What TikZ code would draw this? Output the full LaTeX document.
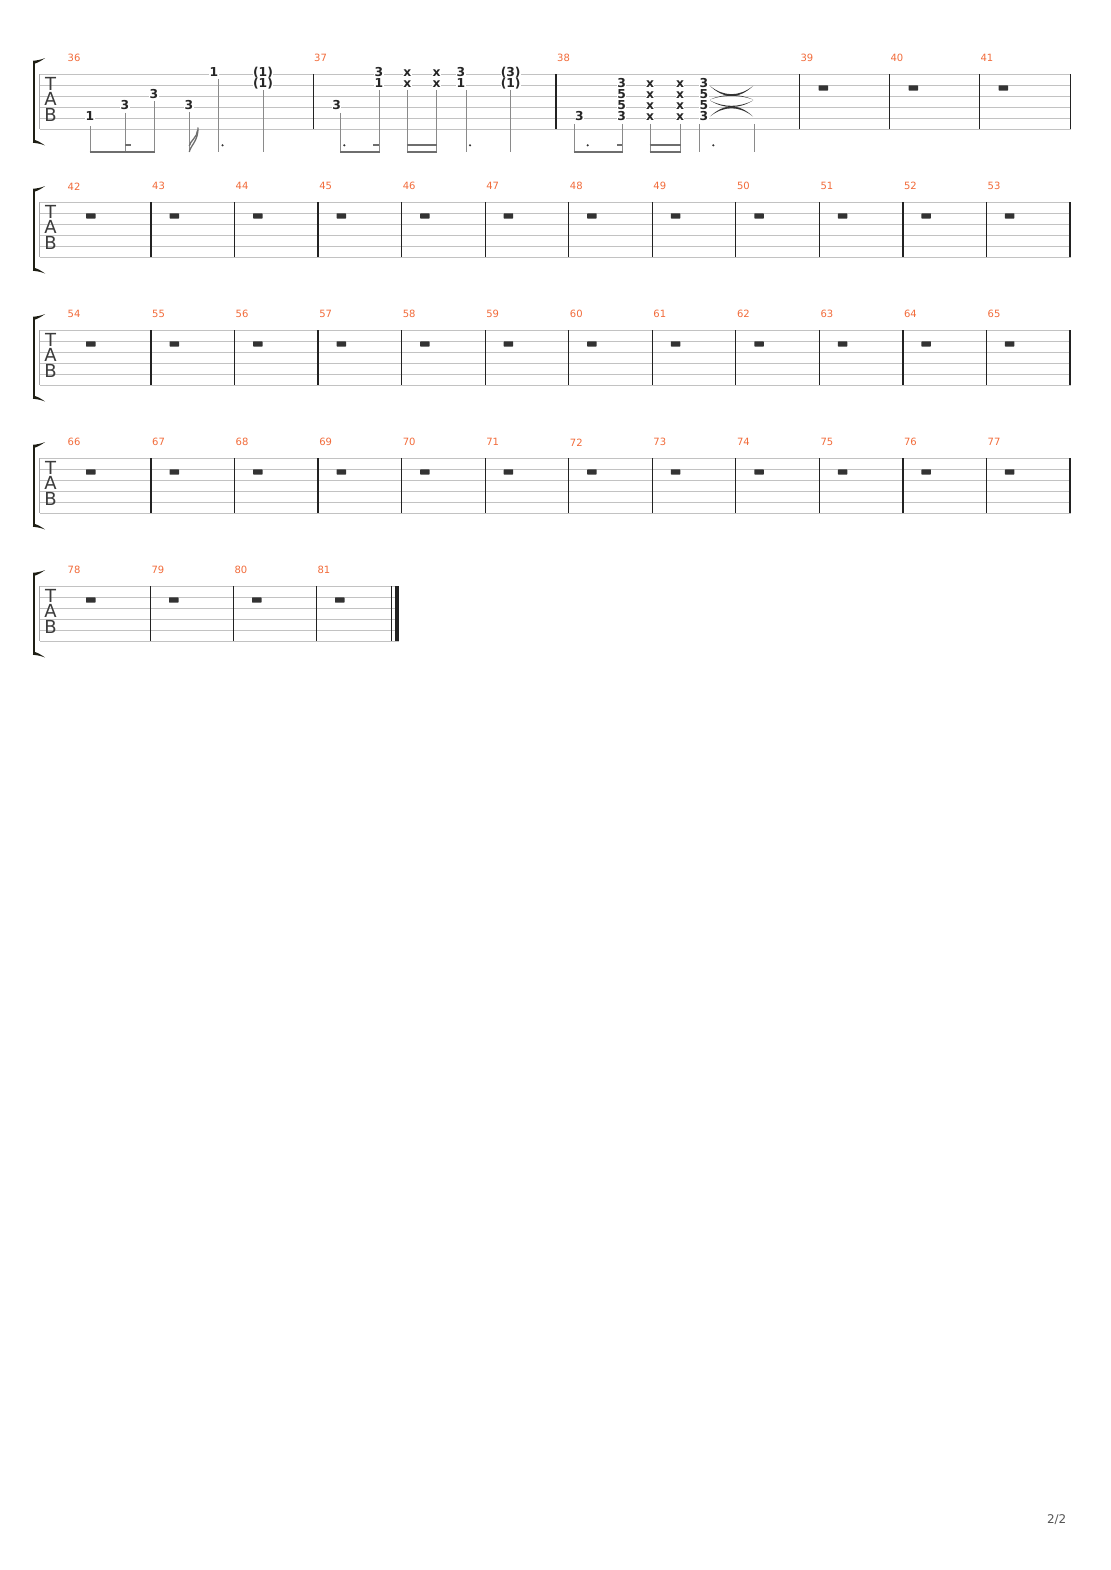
\documentclass[tikz,border=0pt]{standalone}
\usepackage{fontspec}
\setmainfont{DejaVu Sans}
\definecolor{staffc}{HTML}{C2C2C2}
\definecolor{startc}{HTML}{A8A8A8}
\definecolor{barc}{HTML}{222222}
\definecolor{numc}{HTML}{F26B3A}
\definecolor{stemc}{HTML}{8A8A8A}
\definecolor{beamc}{HTML}{6E6E6E}
\definecolor{restc}{HTML}{333333}
\definecolor{textc}{HTML}{262626}
\definecolor{tabc}{HTML}{3C3C3C}
\definecolor{brc}{HTML}{1E1E14}
\definecolor{pagec}{HTML}{555555}
\tikzset{
  staffline/.style={draw=staffc,line width=1pt},
  startline/.style={draw=startc,line width=1.4pt},
  barline/.style={draw=barc,line width=1.3pt},
  mnum/.style={font=\fontsize{10}{10}\selectfont,text=numc,anchor=west,inner sep=0pt},
  tabl/.style={font=\fontsize{18}{18}\selectfont,text=tabc,inner sep=0pt,text height=13.1pt,text depth=0pt},
  fret/.style={font=\bfseries\fontsize{12.3}{12.3}\selectfont,text=textc,fill=white,inner sep=0.3pt,text height=9pt,text depth=0pt},
  xfret/.style={fret,text height=6.7pt,yshift=-0.5pt},
  stemln/.style={draw=stemc,line width=1pt},
  beamln/.style={draw=beamc,line width=2.8pt},
  stubln/.style={draw=beamc,line width=2.2pt},
  flagln/.style={draw=beamc,line width=1.3pt},
  tiefill/.style={fill=restc},
  pagenum/.style={font=\fontsize{12}{12}\selectfont,text=pagec,inner sep=0pt}
}
% #1 index, #2 top y, #3 right x
\newcommand\sysframe[3]{%
  \foreach \i in {0,...,5}{\draw[staffline] (40,{#2+11*\i}) -- (#3,{#2+11*\i});}
  \draw[startline] (39.7,#2) -- (39.7,{#2+55});
  \fill[brc] (32.9,{#2-13.5}) rectangle (35.1,{#2+68.5});
  \fill[brc] (32.9,{#2-13.5}) .. controls (37,{#2-13.8}) and (41,{#2-14.6}) .. (45,{#2-16.2})
     .. controls (41,{#2-13.4}) and (38,{#2-11.6}) .. (35.1,{#2-10.8}) -- cycle;
  \fill[brc] (32.9,{#2+68.5}) .. controls (37,{#2+68.8}) and (41,{#2+69.6}) .. (45,{#2+71.2})
     .. controls (41,{#2+68.4}) and (38,{#2+66.6}) .. (35.1,{#2+65.8}) -- cycle;
  \node[tabl] (tabT#1) at (50.5,{#2+10}) {T};
  \node[tabl] (tabA#1) at (50.5,{#2+25}) {A};
  \node[tabl] (tabB#1) at (50.5,{#2+41}) {B};
}
\newcommand\wrest[2]{\fill[restc,rounded corners=0.6pt] ({#1},{#2+11}) rectangle ({#1+9.5},{#2+16.3});}
\newcommand\ndot[1]{\fill[restc] (#1,145.3) circle (1.2pt);}
% tie: x1 x2 yend ymid
\newcommand\tiearc[4]{%
  \pgfmathsetmacro\ca{(4*#4-#3)/3}%
  \pgfmathsetmacro\cb{(4*(#4+(#3-#4)*0.18)-#3)/3}%
  \fill[tiefill] (#1,#3) .. controls ({#1+14},\ca) and ({#2-14},\ca) .. (#2,#3)
     .. controls ({#2-14},\cb) and ({#1+14},\cb) .. (#1,#3) -- cycle;}
\begin{document}
\begin{tikzpicture}[x=1pt,y=-1pt]
\useasboundingbox (0,0) rectangle (1110,1570);
\fill[white] (0,0) rectangle (1110,1570);

% ---------- system frames
\sysframe{1}{74.3}{1071}
\sysframe{2}{202.3}{1071}
\sysframe{3}{330.3}{1071}
\sysframe{4}{458.3}{1071}
\sysframe{5}{586.3}{399}

% ---------- system 1
\foreach \bx in {313.3,556,799.3,889.3,979.3,1070.3}{\draw[barline] (\bx,74.3) -- (\bx,129.3);}
\node[mnum] (m36) at (67.5,58.3) {36};
\node[mnum] (m37) at (314,58.3) {37};
\node[mnum] (m38) at (557,58.3) {38};
\node[mnum] (m39) at (800.3,58.3) {39};
\node[mnum] (m40) at (890.3,58.3) {40};
\node[mnum] (m41) at (980.3,58.3) {41};
\wrest{818.5}{74.3}
\wrest{908.5}{74.3}
\wrest{998.5}{74.3}

% measure 36
\node[fret] (a1) at (90,116.3) {1};
\node[fret] (a2) at (125,105.3) {3};
\node[fret] (a3) at (154,94.3) {3};
\node[fret] (a4) at (189,105.3) {3};
\node[fret] (a5) at (214,72.3) {1};
\node[fret] (a6a) at (263,72) {(1)};
\node[fret] (a6b) at (263,83.5) {(1)};
\draw[stemln] (90,126.5) -- (90,153.5);
\draw[stemln] (125,113) -- (125,153.5);
\draw[stemln] (154,101.5) -- (154,153.5);
\draw[beamln] (89.5,152) -- (154.5,152);
\draw[stubln] (125,144.7) -- (130.5,144.7);
\draw[stemln] (189,112) -- (189,152.3);
\draw[flagln] (189.3,152) .. controls (190,146) and (198.5,141) .. (198,127.5);
\draw[flagln] (189.3,146) .. controls (190,141) and (197.5,137) .. (197.5,130.5);
\draw[stemln] (218,79) -- (218,152.3);
\ndot{222.5}
\draw[stemln] (263,90) -- (263,152.3);

% measure 37
\node[fret] (b1) at (336.7,105.3) {3};
\node[fret] (b2a) at (379,72.3) {3};
\node[fret] (b2b) at (379,83.3) {1};
\node[xfret] (b3a) at (407.3,72.3) {x};
\node[xfret] (b3b) at (407.3,83.3) {x};
\node[xfret] (b4a) at (436.7,72.3) {x};
\node[xfret] (b4b) at (436.7,83.3) {x};
\node[fret] (b5a) at (461,72.3) {3};
\node[fret] (b5b) at (461,83.3) {1};
\node[fret] (b6a) at (510.7,72) {(3)};
\node[fret] (b6b) at (510.7,83.5) {(1)};
\draw[stemln] (340.7,113) -- (340.7,153.5);
\ndot{344.3}
\draw[stemln] (379,90) -- (379,153.5);
\draw[beamln] (340.2,152) -- (379.5,152);
\draw[stubln] (373,144.7) -- (379,144.7);
\draw[stemln] (407.3,90) -- (407.3,153.5);
\draw[stemln] (436.7,90) -- (436.7,153.5);
\draw[beamln] (406.8,152) -- (437.2,152);
\draw[stubln] (406.8,144.7) -- (437.2,144.7);
\draw[stemln] (466,90) -- (466,152.3);
\ndot{470}
\draw[stemln] (510.7,90) -- (510.7,152.3);

% measure 38
\node[fret] (c1) at (579.3,116.3) {3};
\node[fret] (c2a) at (621.7,83.3) {3};
\node[fret] (c2b) at (621.7,94.3) {5};
\node[fret] (c2c) at (621.7,105.3) {5};
\node[fret] (c2d) at (621.7,116.3) {3};
\node[xfret] (c3a) at (650,83.3) {x};
\node[xfret] (c3b) at (650,94.3) {x};
\node[xfret] (c3c) at (650,105.3) {x};
\node[xfret] (c3d) at (650,116.3) {x};
\node[xfret] (c4a) at (680,83.3) {x};
\node[xfret] (c4b) at (680,94.3) {x};
\node[xfret] (c4c) at (680,105.3) {x};
\node[xfret] (c4d) at (680,116.3) {x};
\node[fret] (c5a) at (704,83.3) {3};
\node[fret] (c5b) at (704,94.3) {5};
\node[fret] (c5c) at (704,105.3) {5};
\node[fret] (c5d) at (704,116.3) {3};
\draw[stemln] (574,124) -- (574,153.5);
\ndot{587.7}
\draw[stemln] (622.3,124) -- (622.3,153.5);
\draw[beamln] (573.5,152) -- (622.8,152);
\draw[stubln] (617,144.7) -- (622.3,144.7);
\draw[stemln] (650,124) -- (650,153.5);
\draw[stemln] (680,124) -- (680,153.5);
\draw[beamln] (649.5,152) -- (680.5,152);
\draw[stubln] (649.5,144.7) -- (680.5,144.7);
\draw[stemln] (699.3,124) -- (699.3,152.3);
\ndot{713.3}
\tiearc{710}{753}{86}{96}
\tiearc{710}{753}{99.5}{95}
\tiearc{710}{753}{100.5}{107}
\tiearc{710}{753}{116.5}{106.5}
\draw[stemln] (754,124) -- (754,152.3);

% ---------- systems 2-4
\foreach \s/\first in {2/42,3/54,4/66}{
  \pgfmathsetmacro\T{74.3+128*(\s-1)}
  \node[mnum] (mn\s) at (67.5,{\T-16}) {\first};
  \wrest{86}{\T}
  \foreach \k in {0,...,11}{
    \pgfmathsetmacro\bx{151+83.545*\k}
    \draw[barline] (\bx,\T) -- (\bx,{\T+55});
    \ifnum\k<11
      \pgfmathtruncatemacro\num{\first+\k+1}
      \node[mnum] (mn\s-\k) at ({\bx+1},{\T-16}) {\num};
      \wrest{\bx+18.5}{\T}
    \fi
  }
}

% ---------- system 5
\foreach \bx in {150.3,233.3,316.3}{\draw[barline] (\bx,586.3) -- (\bx,641.3);}
\draw[barline] (391.7,586.3) -- (391.7,641.3);
\fill[barc] (395,586.3) rectangle (399,641.3);
\node[mnum] (m78) at (67.5,570.3) {78};
\node[mnum] (m79) at (151.3,570.3) {79};
\node[mnum] (m80) at (234.3,570.3) {80};
\node[mnum] (m81) at (317.3,570.3) {81};
\wrest{86}{586.3}
\wrest{169}{586.3}
\wrest{252}{586.3}
\wrest{335}{586.3}

% ---------- page number
\node[pagenum] (pg) at (1056.7,1520) {2/2};
\end{tikzpicture}
\end{document}
